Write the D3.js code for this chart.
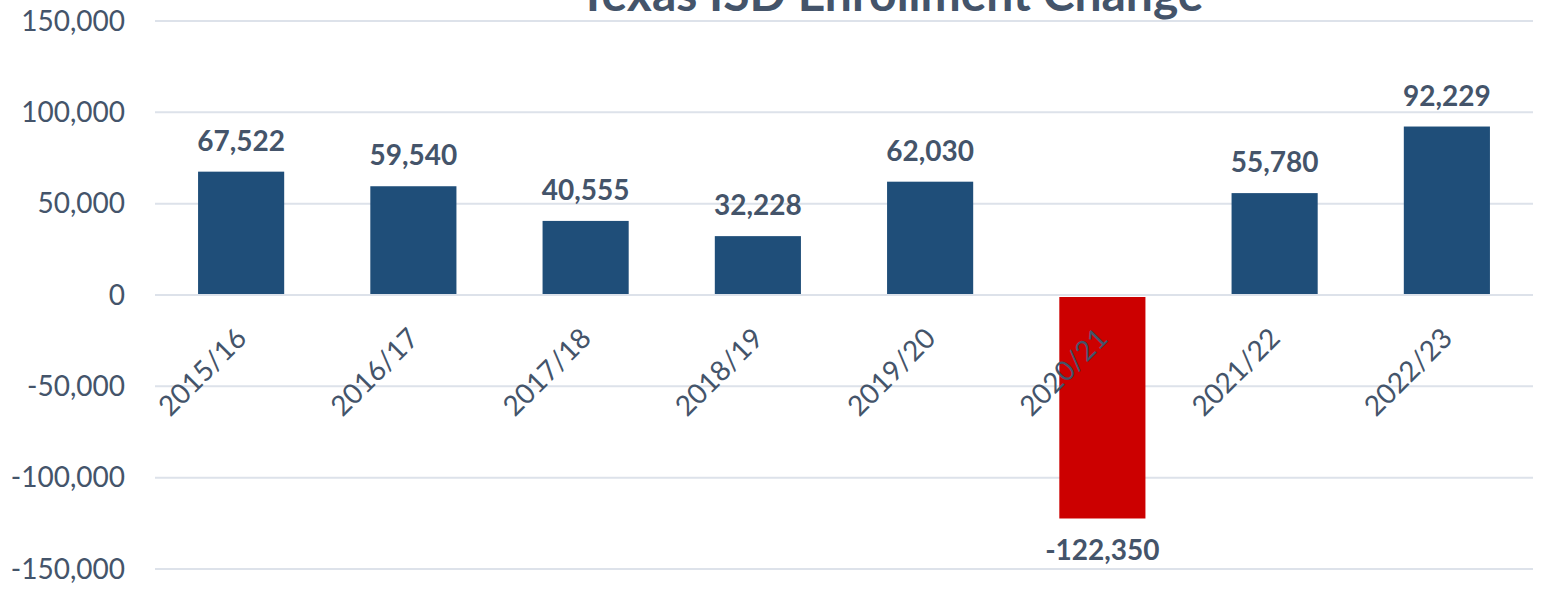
<!DOCTYPE HTML>
<html>
    <head>
        <meta charset="utf-8">
        <style>
            body { margin: 0; background: #fff; }
            text { font-family: Lato, "Open Sans", sans-serif; fill: #44546a; }
            .grid line { stroke: #dde2ea; stroke-width: 2; }
        </style>
        <script src="https://d3js.org/d3.v7.min.js"></script>
    </head>
    <body>
        <svg width="1543" height="592"></svg>
        <script>
            // data
            var years = ["2015/16", "2016/17", "2017/18", "2018/19", "2019/20", "2020/21", "2021/22", "2022/23"];
            var changes = [67522, 59540, 40555, 32228, 62030, -122350, 55780, 92229];
            var yTicks = [-150000, -100000, -50000, 0, 50000, 100000, 150000];

            var data = years.map(function(y, i) { return { year: y, value: changes[i] }; });

            var svg = d3.select("svg"),
                plotLeft = 155, plotRight = 1533, plotTop = 21, plotBottom = 569;

            var x = d3.scaleBand().domain(years).range([plotLeft, plotRight]).paddingInner(0.5).paddingOuter(0.25);
            var y = d3.scaleLinear().domain([-150000, 150000]).range([plotBottom, plotTop]);
            // plain hyphen for negatives, like the original
            var fmt = function(v) { return d3.format(",")(v).replace("\u2212", "-"); };

            // gridlines
            svg.append("g").attr("class", "grid")
               .selectAll("line").data(yTicks).enter().append("line")
               .attr("x1", plotLeft).attr("x2", plotRight)
               .attr("y1", function(d) { return y(d); })
               .attr("y2", function(d) { return y(d); });

            // y axis labels
            svg.append("g").selectAll("text").data(yTicks).enter().append("text")
               .attr("x", plotLeft - 30)
               .attr("y", function(d) { return y(d); })
               .attr("dy", "0.35em")
               .attr("text-anchor", "end")
               .attr("font-size", "28px")
               .text(function(d) { return fmt(d); });

            // bars
            svg.append("g").selectAll("rect").data(data).enter().append("rect")
               .attr("x", function(d) { return x(d.year); })
               .attr("width", x.bandwidth())
               .attr("y", function(d) { return d.value >= 0 ? y(d.value) : y(0) + 2; })
               .attr("height", function(d) { return d.value >= 0 ? y(0) - 1 - y(d.value) : y(d.value) - y(0) - 2; })
               .attr("fill", function(d) { return d.value < 0 ? "#cc0000" : "#1f4e79"; });

            // value labels
            svg.append("g").selectAll("text").data(data).enter().append("text")
               .attr("x", function(d) { return x(d.year) + x.bandwidth() / 2; })
               .attr("y", function(d) { return d.value >= 0 ? y(d.value) - 21 : y(d.value) + 42; })
               .attr("text-anchor", "middle")
               .attr("font-size", "28px")
               .attr("font-weight", "bold")
               .text(function(d) { return fmt(d.value); });

            // x axis labels, rotated
            svg.append("g").selectAll("text").data(years).enter().append("text")
               .attr("transform", function(d) {
                   return "translate(" + (x(d) + x.bandwidth() / 2 + 7) + "," + (y(0) + 45) + ") rotate(-45)";
               })
               .attr("text-anchor", "end")
               .attr("font-size", "28px")
               .text(function(d) { return d; });

            // title (cut at the top edge)
            svg.append("text")
               .attr("x", 891)
               .attr("y", 11)
               .attr("text-anchor", "middle")
               .attr("font-size", "48px")
               .attr("font-weight", "bold")
               .text("Texas ISD Enrollment Change");
        </script>
    </body>
</html>
